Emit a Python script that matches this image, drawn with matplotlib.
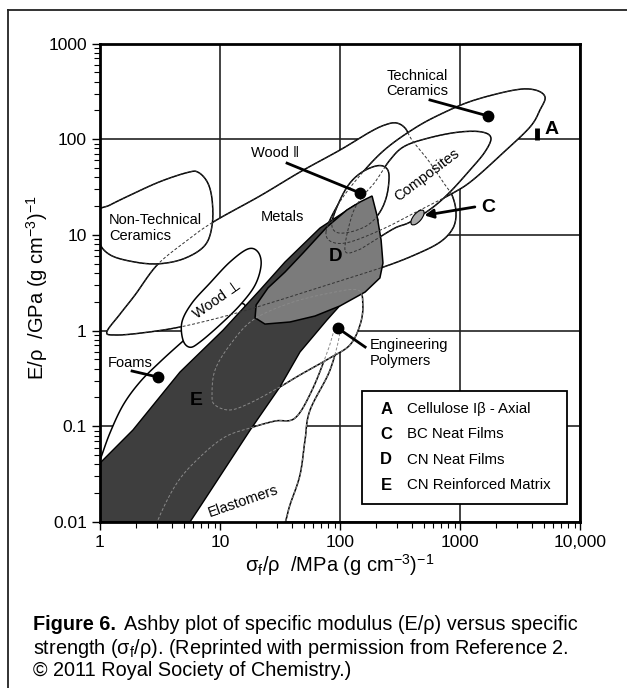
import numpy as np
import matplotlib.pyplot as plt
from matplotlib.lines import Line2D
from matplotlib.path import Path
from matplotlib.transforms import Affine2D

plt.rcParams['font.family'] = ['Liberation Sans', 'DejaVu Sans']
plt.rcParams['mathtext.fontset'] = 'custom'
plt.rcParams['mathtext.rm'] = 'Liberation Sans'
plt.rcParams['mathtext.it'] = 'Liberation Sans:italic'
plt.rcParams['mathtext.bf'] = 'Liberation Sans:bold'

# material envelopes, (specific strength, specific modulus) outline points
metals = [(1.14, 0.97), (1.47, 1.49), (1.96, 2.36), (2.99, 4.84), (5.11, 8.43), (8.75, 13.6),
          (21.5, 25.5), (46.4, 45.4), (100, 77.1), (178, 119), (237, 141), (293, 148),
          (348, 131), (398, 98), (541, 60.7), (722, 35.7), (858, 26), (926, 17.3), (875, 11.8),
          (681, 8.4), (422, 6.2), (228, 4.6), (82.5, 3.07), (31.6, 2.09), (12.1, 1.46),
          (4.64, 1.09), (2.15, 0.94), (1.33, 0.90)]
non_tech_ceramics = [(0.96, 17.3), (0.97, 8.9), (1.21, 6.2), (1.96, 5.2), (3.16, 5.0), (5.1, 5.7),
                     (7.5, 7.8), (8.6, 12.7), (8.6, 23), (7.9, 35), (6.6, 45), (5.4, 45),
                     (3.16, 36), (1.78, 26), (1.21, 20.5)]
tech_ceramics = [(76.4, 10.7), (90.8, 18.2), (126, 33.2), (224, 73.4), (422, 131), (750, 192),
                 (1330, 257), (2870, 327), (4220, 327), (5110, 276), (4640, 202), (3830, 134),
                 (2280, 71.8), (1280, 37.5), (875, 27.4), (464, 18.2), (237, 11.8), (121, 8.43),
                 (85.7, 8.43)]
composites = [(110, 6.93), (126, 16.1), (153, 24.9), (196, 35.7), (261, 60.7), (348, 84.9),
              (584, 105), (1000, 119), (1520, 119), (1810, 103), (1610, 73.4), (1210, 47.6),
              (826, 28.1), (584, 19.1), (383, 13.6), (287, 11.8), (196, 8.85), (141, 6.93)]
wood_par = [(85.7, 13.6), (100, 23.1), (121, 34.8), (153, 45.4), (200, 52.5), (237, 51.2),
            (256, 42.3), (246, 26.1), (215, 17.3), (171, 12.7), (121, 10.7), (92.6, 10.7)]
wood_perp = [(4.92, 0.794), (4.82, 1.23), (5.84, 1.94), (8.25, 3.14), (12.1, 5.21), (17.1, 7.13),
             (20.7, 6.64), (22.0, 4.85), (19.6, 2.99), (14.7, 1.85), (10, 1.15), (6.81, 0.76),
             (5.62, 0.67)]
foams = [(0.858, 0.0274), (1.0, 0.0443), (1.21, 0.0851), (1.56, 0.167), (2.15, 0.290),
         (3.16, 0.470), (4.82, 0.760), (7.50, 1.23), (12.6, 1.85), (16.1, 1.85), (14.7, 1.36),
         (9.08, 0.708), (5.11, 0.304), (2.87, 0.116), (1.62, 0.0394), (1.10, 0.0169),
         (0.858, 0.0151)]
polymers = [(8.58, 0.212), (9.08, 0.386), (12.1, 0.708), (18.8, 1.29), (38.3, 1.94), (82.5, 2.47),
            (141, 2.65), (155, 1.85), (147, 1.15), (121, 0.708), (82.5, 0.518), (46.4, 0.344),
            (30.4, 0.251), (17.8, 0.175), (12.1, 0.148), (9.08, 0.167)]
elastomers = [(2.37, 0.0040), (2.99, 0.010), (4.38, 0.0256), (6.81, 0.0478), (11.0, 0.0773),
              (17.8, 0.096), (28.7, 0.1135), (42.2, 0.122), (58.5, 0.239), (79.4, 0.625),
              (92.6, 1.14), (100, 0.966), (82.5, 0.386), (56.2, 0.147), (51.1, 0.0716),
              (46.4, 0.031), (38.3, 0.0151), (32.9, 0.0082), (21.5, 0.00315)]

# nanocellulose regions
region_d = [(185, 25.5), (203, 16.1), (220, 8.85), (228, 5.08), (215, 3.55), (162, 2.53),
            (100, 1.81), (61.9, 1.42), (38.3, 1.23), (23.7, 1.17), (19.6, 1.36), (20.0, 1.85),
            (25.1, 2.79), (34.8, 4.09), (49.2, 6.47), (77.9, 12.1), (114, 18.2), (147, 22.1)]
region_e = [(1.0, 0.01), (1.0, 0.0413), (1.88, 0.0914), (4.64, 0.369), (10.6, 1.01), (21.5, 2.65),
            (34.8, 5.21), (68.1, 11.8), (133, 20.5), (185, 23.1), (207, 14.3), (162, 4.30),
            (110, 2.09), (77.9, 1.29), (46.4, 0.597), (31.6, 0.258), (17.8, 0.091),
            (6.81, 0.0144), (5.62, 0.01)]
point_a = (4380, 98, 131)
point_c = (438, 15.4)

# labelled dots and their leader starts
dots = {'tech': ((1710, 175), (562, 257)),
        'wood': ((147, 27.4), (36.2, 56.2)),
        'foams': ((3.04, 0.327), (1.85, 0.378)),
        'poly': ((96.2, 1.06), (162, 0.674))}

legend_keys = ['A', 'C', 'D', 'E']
legend_names = ['Cellulose I\u03b2 - Axial', 'BC Neat Films', 'CN Neat Films', 'CN Reinforced Matrix']

x_ticks = [1, 10, 100, 1000, 10000]
x_labels = ['1', '10', '100', '1000', '10,000']
y_ticks = [0.01, 0.1, 1, 10, 100, 1000]
y_labels = ['0.01', '0.1', '1', '10', '100', '1000']


def smooth(points, n=14):
    p = np.log10(np.array(points, float))
    m = len(p)
    t = np.linspace(0, 1, n, endpoint=False)[:, None]
    segs = []
    for i in range(m):
        p0, p1, p2, p3 = p[i - 1], p[i], p[(i + 1) % m], p[(i + 2) % m]
        segs.append(0.5 * (2 * p1 + (-p0 + p2) * t + (2 * p0 - 5 * p1 + 4 * p2 - p3) * t ** 2
                           + (-p0 + 3 * p1 - 3 * p2 + p3) * t ** 3))
    out = np.vstack(segs + [segs[0][:1]])
    return 10 ** out[:, 0], 10 ** out[:, 1]


fig = plt.figure(figsize=(6.27, 6.88), dpi=100)
ax = fig.add_axes([100 / 627, 1 - 522 / 688, 480 / 627, 478.5 / 688])
ax.set_xscale('log')
ax.set_yscale('log')
ax.set_xlim(1, 10000)
ax.set_ylim(0.01, 1000)
ax.set_axisbelow(True)
ax.grid(True, which='major', color='#222222', lw=1.2)

order = [(metals, '#333333'), (non_tech_ceramics, '#333333'), (tech_ceramics, '#333333'),
         (composites, '#333333'), (wood_par, '#333333'), (foams, None), (wood_perp, None),
         (elastomers, '#8a8a8a'), (polymers, '#8a8a8a')]
for z, (pts, dash) in enumerate(order):
    xs, ys = smooth(pts)
    ax.fill(xs, ys, facecolor='white', edgecolor='black', lw=1.1, zorder=2 + z)

ex, ey = zip(*region_e)
ax.fill(ex, ey, facecolor='#3e3e3e', edgecolor='black', lw=1.0, zorder=12)
dx, dy = zip(*region_d)
ax.fill(dx, dy, facecolor='#7b7b7b', edgecolor='black', lw=1.1, zorder=13)

for pts, dash in order:
    if dash:
        xs, ys = smooth(pts)
        ax.plot(xs, ys, color=dash, lw=0.7, ls=(0, (3, 2)), zorder=14)

# dots + leaders
for (pt, start) in dots.values():
    ax.plot([start[0], pt[0]], [start[1], pt[1]], color='black', lw=2, zorder=15)
    ax.plot(*pt, 'o', color='black', ms=7.5, zorder=16)

ax.plot([point_a[0]] * 2, point_a[1:], color='black', lw=3.5, solid_capstyle='butt', zorder=16)
ell = Path.unit_circle().transformed(Affine2D().scale(1, 0.45).rotate_deg(50))
ax.plot(*point_c, marker=ell, ms=11, mfc='#a8a8a8', mec='black', mew=0.8, zorder=16)
ax.annotate('', xy=(505, 16.0), xytext=(1330, 19.6),
            arrowprops=dict(arrowstyle='-|>', lw=2, color='black', mutation_scale=13,
                            shrinkA=0, shrinkB=0), zorder=16)

lab = dict(fontsize=10.5, zorder=17)
ax.text(440, 380, 'Technical\nCeramics', ha='center', va='center', linespacing=1.1, **lab)
ax.text(28.7, 71.8, 'Wood \u2016', ha='center', va='center', **lab)
ax.text(32.9, 15.4, 'Metals', ha='center', va='center', **lab)
ax.text(1.19, 11.8, 'Non-Technical\nCeramics', ha='left', va='center', linespacing=1.1, **lab)
ax.text(9.44, 2.09, 'Wood \u22a5', ha='center', va='center', rotation=35, **lab)
ax.text(1.78, 0.458, 'Foams', ha='center', va='center', **lab)
ax.text(531, 42.3, 'Composites', ha='center', va='center', rotation=37, **lab)
ax.text(178, 0.583, 'Engineering\nPolymers', ha='left', va='center', linespacing=1.1, **lab)
ax.text(15.6, 0.0166, 'Elastomers', ha='center', va='center', rotation=19, **lab)
ax.text(92.6, 5.88, 'D', ha='center', va='center', fontsize=13.5, weight='bold', zorder=17)
ax.text(6.31, 0.187, 'E', ha='center', va='center', fontsize=14, weight='bold', zorder=17)
ax.text(5840, 125, 'A', ha='center', va='center', fontsize=14, weight='bold', zorder=17)
ax.text(1710, 19.5, 'C', ha='center', va='center', fontsize=14, weight='bold', zorder=17)

# legend box
ax.add_patch(plt.Rectangle((0.546, 0.0376), 0.427, 0.236, transform=ax.transAxes,
                           facecolor='white', edgecolor='black', lw=1.3, zorder=18))
for i, (k, name) in enumerate(zip(legend_keys, legend_names)):
    yy = 0.236 - i * 0.053
    ax.text(0.596, yy, k, transform=ax.transAxes, ha='center', va='center',
            fontsize=12, weight='bold', zorder=19)
    ax.text(0.64, yy, name, transform=ax.transAxes, ha='left', va='center',
            fontsize=10.8, zorder=19)

for s in ax.spines.values():
    s.set_linewidth(2)
    s.set_zorder(20)
ax.set_xticks(x_ticks)
ax.set_xticklabels(x_labels)
ax.set_yticks(y_ticks)
ax.set_yticklabels(y_labels)
ax.tick_params(which='major', direction='out', length=6, width=1, labelsize=12.5, top=False, right=False)
ax.tick_params(which='minor', direction='out', length=4, width=0.8, top=False, right=False)
ax.set_xlabel(r'$\mathregular{\sigma_f/\rho}$  /MPa (g cm$\mathregular{^{-3}}$)$\mathregular{^{-1}}$',
              fontsize=14.5)
ax.set_ylabel(r'E/$\mathregular{\rho}$  /GPa (g cm$\mathregular{^{-3}}$)$\mathregular{^{-1}}$',
              fontsize=14.5)
ax.xaxis.set_label_coords(0.5, -0.062)
ax.yaxis.set_label_coords(-0.105, 0.49)

# frame and caption
fig.add_artist(Line2D([8 / 627, 8 / 627], [0, 1 - 10 / 688], color='#222222', lw=1.3))
fig.add_artist(Line2D([8 / 627, 1], [1 - 10 / 688, 1 - 10 / 688], color='#222222', lw=1.3))

r = fig.canvas.get_renderer()
t1 = fig.text(33 / 627, 1 - 625 / 688, 'Figure 6.', weight='bold', fontsize=14.3, va='center')
bb = t1.get_window_extent(r)
fig.text(bb.x1 / 627 + 8 / 627, 1 - 625 / 688,
         'Ashby plot of specific modulus (E/\u03c1) versus specific', fontsize=14.3, va='center')
fig.text(33 / 627, 1 - 648 / 688,
         r'strength ($\mathregular{\sigma_f/\rho}$). (Reprinted with permission from Reference 2.',
         fontsize=14.3, va='center')
fig.text(33 / 627, 1 - 671 / 688, '\u00a9 2011 Royal Society of Chemistry.)', fontsize=14.3, va='center')

fig.savefig('out.png', dpi=100)
